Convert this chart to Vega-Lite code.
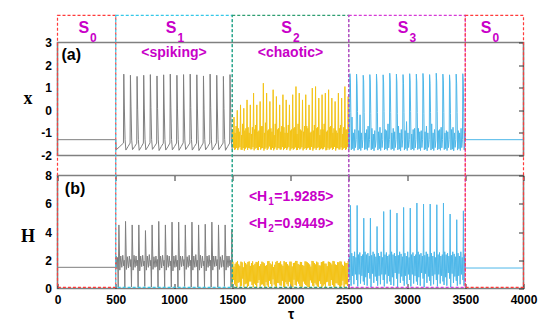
{
"$schema":"https://vega.github.io/schema/vega-lite/v6.json",
"padding":{"left":19.5,"top":13.5,"right":5,"bottom":3},
"bounds":"flush",
"spacing":20,
"config":{"view":{"stroke":"#808080","strokeWidth":1.6},"font":"Liberation Sans"},
"datasets":{
"xg":[{"t":0,"v":-1.3},{"t":500,"v":-1.3},{"t":504,"v":-1.75},{"t":535,"v":-1.6},
{"t":566,"v":-1.45},{"t":569,"v":1.6},{"t":574,"v":0.1},{"t":580,"v":-1.3},{"t":587,"v":-1.76},{"t":606,"v":-1.6},
{"t":623,"v":-1.45},{"t":626,"v":1.55},{"t":631,"v":0.15},{"t":637,"v":-1.32},{"t":644,"v":-1.74},{"t":663,"v":-1.6},
{"t":680,"v":-1.46},{"t":683,"v":1.5},{"t":688,"v":0.05},{"t":694,"v":-1.3},{"t":701,"v":-1.77},{"t":720,"v":-1.61},
{"t":737,"v":-1.45},{"t":740,"v":1.55},{"t":745,"v":0.1},{"t":751,"v":-1.28},{"t":758,"v":-1.75},{"t":777,"v":-1.6},
{"t":794,"v":-1.44},{"t":797,"v":1.58},{"t":802,"v":0.12},{"t":808,"v":-1.3},{"t":815,"v":-1.73},{"t":834,"v":-1.59},
{"t":851,"v":-1.45},{"t":854,"v":1.52},{"t":859,"v":0.08},{"t":865,"v":-1.31},{"t":872,"v":-1.78},{"t":891,"v":-1.6},
{"t":908,"v":-1.46},{"t":911,"v":1.57},{"t":916,"v":0.1},{"t":922,"v":-1.3},{"t":929,"v":-1.76},{"t":948,"v":-1.61},
{"t":965,"v":-1.45},{"t":968,"v":1.6},{"t":973,"v":0.14},{"t":979,"v":-1.29},{"t":986,"v":-1.75},{"t":1005,"v":-1.6},
{"t":1022,"v":-1.45},{"t":1025,"v":1.55},{"t":1030,"v":0.06},{"t":1036,"v":-1.3},{"t":1043,"v":-1.77},{"t":1062,"v":-1.6},
{"t":1079,"v":-1.44},{"t":1082,"v":1.58},{"t":1087,"v":0.1},{"t":1093,"v":-1.32},{"t":1100,"v":-1.74},{"t":1119,"v":-1.59},
{"t":1136,"v":-1.45},{"t":1139,"v":1.6},{"t":1144,"v":0.12},{"t":1150,"v":-1.3},{"t":1157,"v":-1.76},{"t":1176,"v":-1.6},
{"t":1193,"v":-1.46},{"t":1196,"v":1.57},{"t":1201,"v":0.1},{"t":1207,"v":-1.28},{"t":1214,"v":-1.78},{"t":1233,"v":-1.61},
{"t":1250,"v":-1.45},{"t":1253,"v":1.52},{"t":1258,"v":0.05},{"t":1264,"v":-1.3},{"t":1271,"v":-1.75},{"t":1290,"v":-1.6},
{"t":1307,"v":-1.45},{"t":1310,"v":1.6},{"t":1315,"v":0.14},{"t":1321,"v":-1.31},{"t":1328,"v":-1.76},{"t":1347,"v":-1.6},
{"t":1364,"v":-1.44},{"t":1367,"v":1.55},{"t":1372,"v":0.1},{"t":1378,"v":-1.3},{"t":1385,"v":-1.74},{"t":1404,"v":-1.59},
{"t":1421,"v":-1.45},{"t":1424,"v":1.5},{"t":1429,"v":0.08},{"t":1435,"v":-1.29},{"t":1442,"v":-1.77},{"t":1461,"v":-1.6},
{"t":1478,"v":-1.45},{"t":1481,"v":1.58},{"t":1486,"v":0.1},{"t":1492,"v":-1.3},{"t":1500,"v":-1.75}],
"xy":[{"t":1500,"v":-1.3},{"t":1505,"v":-0.85},{"t":1510,"v":-1.65},{"t":1515,"v":-0.3},{"t":1520,"v":-1.75},{"t":1524,"v":-1.0},
{"t":1528,"v":-1.72},{"t":1533,"v":-0.7},{"t":1538,"v":-1.66},{"t":1543,"v":0.0},{"t":1548,"v":-1.76},{"t":1552,"v":-0.8},
{"t":1556,"v":-1.68},{"t":1561,"v":-0.95},{"t":1566,"v":-1.62},{"t":1571,"v":0.24},{"t":1576,"v":-1.74},{"t":1580,"v":-1.1},
{"t":1584,"v":-1.75},{"t":1589,"v":-0.6},{"t":1594,"v":-1.67},{"t":1599,"v":0.09},{"t":1604,"v":-1.78},{"t":1608,"v":-0.9},
{"t":1612,"v":-1.7},{"t":1617,"v":-0.8},{"t":1622,"v":-1.64},{"t":1627,"v":0.46},{"t":1632,"v":-1.75},{"t":1636,"v":-0.75},
{"t":1640,"v":-1.66},{"t":1645,"v":-1.0},{"t":1650,"v":-1.68},{"t":1655,"v":0.24},{"t":1660,"v":-1.73},{"t":1664,"v":-1.05},
{"t":1668,"v":-1.72},{"t":1673,"v":-0.75},{"t":1678,"v":-1.63},{"t":1683,"v":0.76},{"t":1688,"v":-1.77},{"t":1692,"v":-0.85},
{"t":1696,"v":-1.7},{"t":1701,"v":-0.65},{"t":1706,"v":-1.66},{"t":1711,"v":0.24},{"t":1716,"v":-1.75},{"t":1720,"v":-0.95},
{"t":1724,"v":-1.76},{"t":1729,"v":-0.9},{"t":1734,"v":-1.62},{"t":1739,"v":0.39},{"t":1744,"v":-1.74},{"t":1748,"v":-0.7},
{"t":1752,"v":-1.68},{"t":1757,"v":-0.7},{"t":1762,"v":-1.67},{"t":1767,"v":1.2},{"t":1772,"v":-1.78},{"t":1776,"v":-1.0},
{"t":1780,"v":-1.71},{"t":1785,"v":-0.55},{"t":1790,"v":-1.65},{"t":1795,"v":0.76},{"t":1800,"v":-1.75},{"t":1804,"v":-0.9},
{"t":1808,"v":-1.69},{"t":1813,"v":-0.85},{"t":1818,"v":-1.6},{"t":1823,"v":0.39},{"t":1828,"v":-1.73},{"t":1832,"v":-0.8},
{"t":1836,"v":-1.74},{"t":1841,"v":-0.95},{"t":1846,"v":-1.66},{"t":1851,"v":0.91},{"t":1856,"v":-1.77},{"t":1860,"v":-1.1},
{"t":1864,"v":-1.7},{"t":1869,"v":-0.6},{"t":1874,"v":-1.64},{"t":1879,"v":0.61},{"t":1884,"v":-1.75},{"t":1888,"v":-0.85},
{"t":1892,"v":-1.67},{"t":1897,"v":-0.8},{"t":1902,"v":-1.68},{"t":1907,"v":0.24},{"t":1912,"v":-1.74},{"t":1916,"v":-0.95},
{"t":1920,"v":-1.73},{"t":1925,"v":-0.7},{"t":1930,"v":-1.63},{"t":1935,"v":0.69},{"t":1940,"v":-1.76},{"t":1944,"v":-0.75},
{"t":1948,"v":-1.7},{"t":1953,"v":-1.0},{"t":1958,"v":-1.66},{"t":1963,"v":0.46},{"t":1968,"v":-1.75},{"t":1972,"v":-1.0},
{"t":1976,"v":-1.68},{"t":1981,"v":-0.65},{"t":1986,"v":-1.62},{"t":1991,"v":0.24},{"t":1996,"v":-1.78},{"t":2000,"v":-0.9},
{"t":2004,"v":-1.72},{"t":2009,"v":-0.85},{"t":2014,"v":-1.67},{"t":2019,"v":0.69},{"t":2024,"v":-1.74},{"t":2028,"v":-0.8},
{"t":2032,"v":-1.7},{"t":2037,"v":-0.75},{"t":2042,"v":-1.64},{"t":2047,"v":1.05},{"t":2052,"v":-1.76},{"t":2056,"v":-1.05},
{"t":2060,"v":-1.75},{"t":2065,"v":-0.6},{"t":2070,"v":-1.66},{"t":2075,"v":0.76},{"t":2080,"v":-1.73},{"t":2084,"v":-0.85},
{"t":2088,"v":-1.69},{"t":2093,"v":-0.9},{"t":2098,"v":-1.63},{"t":2103,"v":0.46},{"t":2108,"v":-1.77},{"t":2112,"v":-0.95},
{"t":2116,"v":-1.71},{"t":2121,"v":-0.7},{"t":2126,"v":-1.67},{"t":2131,"v":0.69},{"t":2136,"v":-1.75},{"t":2140,"v":-0.7},
{"t":2144,"v":-1.68},{"t":2149,"v":-0.8},{"t":2154,"v":-1.65},{"t":2159,"v":0.24},{"t":2164,"v":-1.74},{"t":2168,"v":-1.0},
{"t":2172,"v":-1.74},{"t":2177,"v":-0.95},{"t":2182,"v":-1.62},{"t":2187,"v":0.98},{"t":2192,"v":-1.78},{"t":2196,"v":-0.9},
{"t":2200,"v":-1.7},{"t":2205,"v":-0.65},{"t":2210,"v":-1.66},{"t":2215,"v":1.05},{"t":2220,"v":-1.75},{"t":2224,"v":-0.8},
{"t":2228,"v":-1.67},{"t":2233,"v":-0.75},{"t":2238,"v":-1.64},{"t":2243,"v":0.54},{"t":2248,"v":-1.76},{"t":2252,"v":-1.1},
{"t":2256,"v":-1.72},{"t":2261,"v":-0.85},{"t":2266,"v":-1.68},{"t":2271,"v":0.69},{"t":2276,"v":-1.73},{"t":2280,"v":-0.85},
{"t":2284,"v":-1.7},{"t":2289,"v":-0.6},{"t":2294,"v":-1.63},{"t":2299,"v":0.76},{"t":2304,"v":-1.77},{"t":2308,"v":-0.95},
{"t":2312,"v":-1.75},{"t":2317,"v":-0.9},{"t":2322,"v":-1.66},{"t":2327,"v":0.91},{"t":2332,"v":-1.74},{"t":2336,"v":-0.75},
{"t":2340,"v":-1.69},{"t":2345,"v":-0.7},{"t":2350,"v":-1.65},{"t":2355,"v":0.54},{"t":2360,"v":-1.75},{"t":2364,"v":-1.0},
{"t":2368,"v":-1.71},{"t":2373,"v":-0.8},{"t":2378,"v":-1.62},{"t":2383,"v":0.39},{"t":2388,"v":-1.78},{"t":2392,"v":-0.9},
{"t":2396,"v":-1.68},{"t":2401,"v":-1.0},{"t":2406,"v":-1.67},{"t":2411,"v":0.76},{"t":2416,"v":-1.73},{"t":2420,"v":-0.8},
{"t":2424,"v":-1.73},{"t":2429,"v":-0.65},{"t":2434,"v":-1.64},{"t":2439,"v":0.54},{"t":2444,"v":-1.76},{"t":2448,"v":-1.05},
{"t":2452,"v":-1.7},{"t":2457,"v":-0.75},{"t":2462,"v":-1.66},{"t":2467,"v":1.05},{"t":2472,"v":-1.75},{"t":2476,"v":-0.85},
{"t":2480,"v":-1.72},{"t":2485,"v":-0.85},{"t":2490,"v":-1.63},{"t":2495,"v":0.61},{"t":2500,"v":-1.75}],
"xb":[{"t":2500,"v":-1.0},{"t":2503,"v":-1.7},
{"t":2507,"v":-1.3},{"t":2510,"v":1.62},{"t":2514,"v":1.25},{"t":2518,"v":-0.1},{"t":2522,"v":-1.75},{"t":2528,"v":-0.3},{"t":2534,"v":-1.7},{"t":2540,"v":-1.0},{"t":2546,"v":-1.78},{"t":2552,"v":-0.85},{"t":2558,"v":-1.65},
{"t":2564,"v":-1.3},{"t":2567,"v":1.6},{"t":2571,"v":1.2},{"t":2575,"v":-0.05},{"t":2579,"v":-1.76},{"t":2585,"v":-0.9},{"t":2591,"v":-1.7},{"t":2597,"v":-0.2},{"t":2603,"v":-1.78},{"t":2609,"v":-1.0},{"t":2615,"v":-1.66},
{"t":2621,"v":-1.28},{"t":2624,"v":1.55},{"t":2628,"v":1.3},{"t":2632,"v":-0.1},{"t":2636,"v":-1.74},{"t":2642,"v":-1.0},{"t":2648,"v":-1.72},{"t":2654,"v":-0.85},{"t":2660,"v":-1.77},{"t":2666,"v":-0.7},{"t":2672,"v":-1.65},
{"t":2678,"v":-1.3},{"t":2681,"v":1.58},{"t":2685,"v":1.25},{"t":2689,"v":-0.15},{"t":2693,"v":-1.75},{"t":2699,"v":-0.8},{"t":2705,"v":-1.7},{"t":2711,"v":-1.05},{"t":2717,"v":-1.79},{"t":2723,"v":-0.9},{"t":2729,"v":-1.64},
{"t":2735,"v":-1.32},{"t":2738,"v":1.6},{"t":2742,"v":1.2},{"t":2746,"v":-0.1},{"t":2750,"v":-1.76},{"t":2756,"v":-0.95},{"t":2762,"v":-1.7},{"t":2768,"v":-0.75},{"t":2774,"v":-1.78},{"t":2780,"v":-1.0},{"t":2786,"v":-1.65},
{"t":2792,"v":-1.3},{"t":2795,"v":1.57},{"t":2799,"v":1.25},{"t":2803,"v":-0.05},{"t":2807,"v":-1.75},{"t":2813,"v":-0.85},{"t":2819,"v":-1.71},{"t":2825,"v":-0.9},{"t":2831,"v":-1.77},{"t":2837,"v":-0.6},{"t":2843,"v":-1.66},
{"t":2849,"v":-1.29},{"t":2852,"v":1.64},{"t":2856,"v":1.3},{"t":2860,"v":-0.1},{"t":2864,"v":-1.74},{"t":2870,"v":-1.0},{"t":2876,"v":-1.7},{"t":2882,"v":-0.8},{"t":2888,"v":-1.78},{"t":2894,"v":-0.95},{"t":2900,"v":-1.65},
{"t":2906,"v":-1.3},{"t":2909,"v":1.6},{"t":2913,"v":1.25},{"t":2917,"v":-0.15},{"t":2921,"v":-1.75},{"t":2927,"v":-0.7},{"t":2933,"v":-1.72},{"t":2939,"v":-1.0},{"t":2945,"v":-1.79},{"t":2951,"v":-0.85},{"t":2957,"v":-1.64},
{"t":2963,"v":-1.31},{"t":2966,"v":1.58},{"t":2970,"v":1.2},{"t":2974,"v":-0.1},{"t":2978,"v":-1.76},{"t":2984,"v":-0.9},{"t":2990,"v":-1.7},{"t":2996,"v":-0.5},{"t":3002,"v":-1.78},{"t":3008,"v":-1.0},{"t":3014,"v":-1.65},
{"t":3020,"v":-1.3},{"t":3023,"v":1.62},{"t":3027,"v":1.3},{"t":3031,"v":-0.05},{"t":3035,"v":-1.75},{"t":3041,"v":-1.05},{"t":3047,"v":-1.71},{"t":3053,"v":-0.85},{"t":3059,"v":-1.77},{"t":3065,"v":-0.8},{"t":3071,"v":-1.66},
{"t":3077,"v":-1.3},{"t":3080,"v":1.6},{"t":3084,"v":1.25},{"t":3088,"v":-0.1},{"t":3092,"v":-1.74},{"t":3098,"v":-0.8},{"t":3104,"v":-1.7},{"t":3110,"v":-0.95},{"t":3116,"v":-1.78},{"t":3122,"v":-0.9},{"t":3128,"v":-1.65},
{"t":3134,"v":-1.28},{"t":3137,"v":1.63},{"t":3141,"v":1.3},{"t":3145,"v":-0.15},{"t":3149,"v":-1.75},{"t":3155,"v":-0.95},{"t":3161,"v":-1.72},{"t":3167,"v":-0.7},{"t":3173,"v":-1.79},{"t":3179,"v":-1.0},{"t":3185,"v":-1.64},
{"t":3191,"v":-1.3},{"t":3194,"v":1.58},{"t":3198,"v":1.2},{"t":3202,"v":-0.1},{"t":3206,"v":-1.76},{"t":3212,"v":-0.6},{"t":3218,"v":-1.7},{"t":3224,"v":-1.0},{"t":3230,"v":-1.78},{"t":3236,"v":-0.85},{"t":3242,"v":-1.65},
{"t":3248,"v":-1.32},{"t":3251,"v":1.64},{"t":3255,"v":1.25},{"t":3259,"v":-0.05},{"t":3263,"v":-1.75},{"t":3269,"v":-0.9},{"t":3275,"v":-1.71},{"t":3281,"v":-0.85},{"t":3287,"v":-1.77},{"t":3293,"v":-0.75},{"t":3299,"v":-1.66},
{"t":3305,"v":-1.3},{"t":3308,"v":1.6},{"t":3312,"v":1.3},{"t":3316,"v":-0.1},{"t":3320,"v":-1.74},{"t":3326,"v":-1.0},{"t":3332,"v":-1.7},{"t":3338,"v":-0.9},{"t":3344,"v":-1.78},{"t":3350,"v":-0.95},{"t":3356,"v":-1.65},
{"t":3362,"v":-1.29},{"t":3365,"v":1.57},{"t":3369,"v":1.25},{"t":3373,"v":-0.15},{"t":3377,"v":-1.75},{"t":3383,"v":-0.85},{"t":3389,"v":-1.72},{"t":3395,"v":-0.75},{"t":3401,"v":-1.79},{"t":3407,"v":-1.0},{"t":3413,"v":-1.64},
{"t":3419,"v":-1.3},{"t":3422,"v":1.6},{"t":3426,"v":1.2},{"t":3430,"v":-0.1},{"t":3434,"v":-1.76},{"t":3440,"v":-0.9},{"t":3446,"v":-1.7},{"t":3452,"v":-1.0},{"t":3458,"v":-1.78},{"t":3464,"v":-0.8},{"t":3470,"v":-1.65},
{"t":3476,"v":-1.3},{"t":3479,"v":1.62},{"t":3483,"v":1.25},{"t":3487,"v":-0.1},{"t":3491,"v":-1.75},{"t":3496,"v":-0.9},{"t":3500,"v":-1.3},{"t":4000,"v":-1.3}],
"hg":[{"t":0,"v":1.5},{"t":500,"v":1.5},{"t":503,"v":2.3},{"t":510,"v":1.4},{"t":516,"v":2.2},{"t":521,"v":0.1},
{"t":527,"v":4.5},{"t":535,"v":1.3},{"t":543,"v":2.3},{"t":552,"v":1.5},{"t":560,"v":2.35},{"t":568,"v":1.6},{"t":573,"v":2.0},{"t":578,"v":0.1},
{"t":584,"v":4.75},{"t":592,"v":1.35},{"t":600,"v":2.25},{"t":609,"v":1.45},{"t":617,"v":2.3},{"t":625,"v":1.55},{"t":630,"v":2.05},{"t":635,"v":0.12},
{"t":641,"v":4.5},{"t":649,"v":1.3},{"t":657,"v":2.35},{"t":666,"v":1.5},{"t":674,"v":2.3},{"t":682,"v":1.6},{"t":687,"v":2.0},{"t":692,"v":0.1},
{"t":698,"v":4.5},{"t":706,"v":1.25},{"t":714,"v":2.3},{"t":723,"v":1.55},{"t":731,"v":2.35},{"t":739,"v":1.6},{"t":744,"v":1.95},{"t":749,"v":0.15},
{"t":755,"v":4.1},{"t":763,"v":1.3},{"t":771,"v":2.3},{"t":780,"v":1.5},{"t":788,"v":2.4},{"t":796,"v":1.6},{"t":801,"v":2.0},{"t":806,"v":0.1},
{"t":812,"v":4.5},{"t":820,"v":1.35},{"t":828,"v":2.25},{"t":837,"v":1.5},{"t":845,"v":2.3},{"t":853,"v":1.55},{"t":858,"v":2.05},{"t":863,"v":0.1},
{"t":869,"v":4.75},{"t":877,"v":1.3},{"t":885,"v":2.3},{"t":894,"v":1.45},{"t":902,"v":2.35},{"t":910,"v":1.6},{"t":915,"v":2.0},{"t":920,"v":0.12},
{"t":926,"v":4.5},{"t":934,"v":1.3},{"t":942,"v":2.35},{"t":951,"v":1.5},{"t":959,"v":2.3},{"t":967,"v":1.6},{"t":972,"v":1.95},{"t":977,"v":0.1},
{"t":983,"v":4.7},{"t":991,"v":1.25},{"t":999,"v":2.3},{"t":1008,"v":1.5},{"t":1016,"v":2.35},{"t":1024,"v":1.55},{"t":1029,"v":2.0},{"t":1034,"v":0.1},
{"t":1040,"v":4.7},{"t":1048,"v":1.3},{"t":1056,"v":2.3},{"t":1065,"v":1.55},{"t":1073,"v":2.3},{"t":1081,"v":1.6},{"t":1086,"v":2.05},{"t":1091,"v":0.15},
{"t":1097,"v":4.5},{"t":1105,"v":1.35},{"t":1113,"v":2.25},{"t":1122,"v":1.5},{"t":1130,"v":2.35},{"t":1138,"v":1.6},{"t":1143,"v":2.0},{"t":1148,"v":0.1},
{"t":1154,"v":4.7},{"t":1162,"v":1.3},{"t":1170,"v":2.3},{"t":1179,"v":1.5},{"t":1187,"v":2.4},{"t":1195,"v":1.55},{"t":1200,"v":2.0},{"t":1205,"v":0.1},
{"t":1211,"v":4.5},{"t":1219,"v":1.3},{"t":1227,"v":2.35},{"t":1236,"v":1.45},{"t":1244,"v":2.3},{"t":1252,"v":1.6},{"t":1257,"v":1.95},{"t":1262,"v":0.12},
{"t":1268,"v":4.55},{"t":1276,"v":1.25},{"t":1284,"v":2.3},{"t":1293,"v":1.5},{"t":1301,"v":2.35},{"t":1309,"v":1.6},{"t":1314,"v":2.0},{"t":1319,"v":0.1},
{"t":1325,"v":4.7},{"t":1333,"v":1.3},{"t":1341,"v":2.3},{"t":1350,"v":1.55},{"t":1358,"v":2.3},{"t":1366,"v":1.6},{"t":1371,"v":2.05},{"t":1376,"v":0.1},
{"t":1382,"v":4.5},{"t":1390,"v":1.35},{"t":1398,"v":2.25},{"t":1407,"v":1.5},{"t":1415,"v":2.35},{"t":1423,"v":1.55},{"t":1428,"v":2.0},{"t":1433,"v":0.15},
{"t":1439,"v":4.5},{"t":1447,"v":1.3},{"t":1455,"v":2.3},{"t":1464,"v":1.5},{"t":1472,"v":2.3},{"t":1480,"v":1.6},{"t":1485,"v":2.0},{"t":1490,"v":0.1},
{"t":1496,"v":4.2},{"t":1500,"v":2.0}],
"hy":[{"t":1500,"v":0.15},{"t":1505,"v":1.9},{"t":1510,"v":0.6},{"t":1515,"v":1.55},
{"t":1520,"v":0.3},{"t":1525,"v":1.75},{"t":1530,"v":0.2},{"t":1535,"v":1.85},
{"t":1540,"v":0.1},{"t":1545,"v":1.95},{"t":1550,"v":0.4},{"t":1555,"v":1.7},
{"t":1560,"v":0.45},{"t":1565,"v":1.6},{"t":1570,"v":0.15},{"t":1575,"v":1.9},
{"t":1580,"v":0.2},{"t":1585,"v":1.85},{"t":1590,"v":0.7},{"t":1595,"v":1.5},
{"t":1600,"v":0.12},{"t":1605,"v":1.9},{"t":1610,"v":0.3},{"t":1615,"v":1.8},
{"t":1620,"v":0.35},{"t":1625,"v":1.7},{"t":1630,"v":0.1},{"t":1635,"v":1.88},
{"t":1640,"v":0.18},{"t":1645,"v":1.92},{"t":1650,"v":0.5},{"t":1655,"v":1.6},
{"t":1660,"v":0.5},{"t":1665,"v":1.8},{"t":1670,"v":0.25},{"t":1675,"v":1.92},
{"t":1680,"v":0.1},{"t":1685,"v":1.65},{"t":1690,"v":0.35},{"t":1695,"v":1.75},
{"t":1700,"v":0.25},{"t":1705,"v":1.88},{"t":1710,"v":0.12},{"t":1715,"v":1.85},
{"t":1720,"v":0.4},{"t":1725,"v":1.95},{"t":1730,"v":0.6},{"t":1735,"v":1.58},
{"t":1740,"v":0.14},{"t":1745,"v":1.72},{"t":1750,"v":0.28},{"t":1755,"v":1.9},
{"t":1760,"v":0.3},{"t":1765,"v":1.85},{"t":1770,"v":0.2},{"t":1775,"v":1.78},
{"t":1780,"v":0.1},{"t":1785,"v":1.6},{"t":1790,"v":0.45},{"t":1795,"v":1.65},
{"t":1800,"v":0.22},{"t":1805,"v":1.93},{"t":1810,"v":0.1},{"t":1815,"v":1.94},
{"t":1820,"v":0.55},{"t":1825,"v":1.78},{"t":1830,"v":0.32},{"t":1835,"v":1.7},
{"t":1840,"v":0.15},{"t":1845,"v":1.9},{"t":1850,"v":0.65},{"t":1855,"v":1.52},
{"t":1860,"v":0.28},{"t":1865,"v":1.68},{"t":1870,"v":0.15},{"t":1875,"v":1.88},
{"t":1880,"v":0.1},{"t":1885,"v":1.95},{"t":1890,"v":0.4},{"t":1895,"v":1.8},
{"t":1900,"v":0.38},{"t":1905,"v":1.82},{"t":1910,"v":0.22},{"t":1915,"v":1.92},
{"t":1920,"v":0.2},{"t":1925,"v":1.7},{"t":1930,"v":0.55},{"t":1935,"v":1.6},
{"t":1940,"v":0.12},{"t":1945,"v":1.94},{"t":1950,"v":0.1},{"t":1955,"v":1.85},
{"t":1960,"v":0.45},{"t":1965,"v":1.86},{"t":1970,"v":0.3},{"t":1975,"v":1.72},
{"t":1980,"v":0.16},{"t":1985,"v":1.62},{"t":1990,"v":0.48},{"t":1995,"v":1.9},
{"t":2000,"v":0.3},{"t":2005,"v":1.9},{"t":2010,"v":0.18},{"t":2015,"v":1.56},
{"t":2020,"v":0.1},{"t":2025,"v":1.8},{"t":2030,"v":0.62},{"t":2035,"v":1.82},
{"t":2040,"v":0.25},{"t":2045,"v":1.95},{"t":2050,"v":0.2},{"t":2055,"v":1.95},
{"t":2060,"v":0.5},{"t":2065,"v":1.74},{"t":2070,"v":0.35},{"t":2075,"v":1.68},
{"t":2080,"v":0.18},{"t":2085,"v":1.88},{"t":2090,"v":0.12},{"t":2095,"v":1.87},
{"t":2100,"v":0.12},{"t":2105,"v":1.66},{"t":2110,"v":0.5},{"t":2115,"v":1.6},
{"t":2120,"v":0.35},{"t":2125,"v":1.92},{"t":2130,"v":0.25},{"t":2135,"v":1.9},
{"t":2140,"v":0.2},{"t":2145,"v":1.85},{"t":2150,"v":0.1},{"t":2155,"v":1.78},
{"t":2160,"v":0.1},{"t":2165,"v":1.7},{"t":2170,"v":0.58},{"t":2175,"v":1.55},
{"t":2180,"v":0.42},{"t":2185,"v":1.95},{"t":2190,"v":0.2},{"t":2195,"v":1.93},
{"t":2200,"v":0.15},{"t":2205,"v":1.8},{"t":2210,"v":0.4},{"t":2215,"v":1.7},
{"t":2220,"v":0.28},{"t":2225,"v":1.9},{"t":2230,"v":0.15},{"t":2235,"v":1.84},
{"t":2240,"v":0.12},{"t":2245,"v":1.64},{"t":2250,"v":0.52},{"t":2255,"v":1.62},
{"t":2260,"v":0.33},{"t":2265,"v":1.87},{"t":2270,"v":0.1},{"t":2275,"v":1.9},
{"t":2280,"v":0.2},{"t":2285,"v":1.93},{"t":2290,"v":0.3},{"t":2295,"v":1.76},
{"t":2300,"v":0.1},{"t":2305,"v":1.76},{"t":2310,"v":0.45},{"t":2315,"v":1.58},
{"t":2320,"v":0.48},{"t":2325,"v":1.9},{"t":2330,"v":0.2},{"t":2335,"v":1.88},
{"t":2340,"v":0.18},{"t":2345,"v":1.82},{"t":2350,"v":0.6},{"t":2355,"v":1.7},
{"t":2360,"v":0.25},{"t":2365,"v":1.95},{"t":2370,"v":0.14},{"t":2375,"v":1.92},
{"t":2380,"v":0.12},{"t":2385,"v":1.7},{"t":2390,"v":0.38},{"t":2395,"v":1.65},
{"t":2400,"v":0.36},{"t":2405,"v":1.86},{"t":2410,"v":0.25},{"t":2415,"v":1.85},
{"t":2420,"v":0.15},{"t":2425,"v":1.92},{"t":2430,"v":0.1},{"t":2435,"v":1.9},
{"t":2440,"v":0.22},{"t":2445,"v":1.68},{"t":2450,"v":0.55},{"t":2455,"v":1.6},
{"t":2460,"v":0.1},{"t":2465,"v":1.9},{"t":2470,"v":0.3},{"t":2475,"v":1.8},
{"t":2480,"v":0.3},{"t":2485,"v":1.8},{"t":2490,"v":0.18},{"t":2495,"v":1.94},{"t":2500,"v":1.2}],
"hb":[{"t":2500,"v":1.0},{"t":2505,"v":2.3},{"t":2510,"v":0.6},
{"t":2515,"v":5.88},{"t":2520,"v":0.2},{"t":2526,"v":2.5},{"t":2532,"v":0.9},{"t":2538,"v":2.3},{"t":2544,"v":0.3},{"t":2550,"v":2.6},{"t":2556,"v":1.0},{"t":2562,"v":2.2},{"t":2568,"v":0.6},
{"t":2572,"v":5.88},{"t":2577,"v":0.15},{"t":2583,"v":2.4},{"t":2589,"v":1.0},{"t":2595,"v":2.55},{"t":2601,"v":0.35},{"t":2607,"v":2.3},{"t":2613,"v":0.9},{"t":2619,"v":2.4},{"t":2625,"v":0.5},
{"t":2629,"v":4.98},{"t":2634,"v":0.25},{"t":2640,"v":2.6},{"t":2646,"v":0.8},{"t":2652,"v":2.4},{"t":2658,"v":0.2},{"t":2664,"v":2.5},{"t":2670,"v":1.1},{"t":2676,"v":2.3},{"t":2682,"v":0.7},
{"t":2686,"v":4.98},{"t":2691,"v":0.1},{"t":2697,"v":2.35},{"t":2703,"v":1.05},{"t":2709,"v":2.6},{"t":2715,"v":0.4},{"t":2721,"v":2.45},{"t":2727,"v":0.85},{"t":2733,"v":2.25},{"t":2739,"v":0.55},
{"t":2743,"v":4.39},{"t":2748,"v":0.2},{"t":2754,"v":2.5},{"t":2760,"v":0.9},{"t":2766,"v":2.3},{"t":2772,"v":0.3},{"t":2778,"v":2.6},{"t":2784,"v":1.0},{"t":2790,"v":2.2},{"t":2796,"v":0.6},
{"t":2800,"v":5.45},{"t":2805,"v":0.15},{"t":2811,"v":2.4},{"t":2817,"v":1.0},{"t":2823,"v":2.55},{"t":2829,"v":0.35},{"t":2835,"v":2.3},{"t":2841,"v":0.9},{"t":2847,"v":2.4},{"t":2853,"v":0.5},
{"t":2857,"v":5.57},{"t":2862,"v":0.25},{"t":2868,"v":2.6},{"t":2874,"v":0.8},{"t":2880,"v":2.4},{"t":2886,"v":0.2},{"t":2892,"v":2.5},{"t":2898,"v":1.1},{"t":2904,"v":2.3},{"t":2910,"v":0.7},
{"t":2914,"v":5.34},{"t":2919,"v":0.1},{"t":2925,"v":2.35},{"t":2931,"v":1.05},{"t":2937,"v":2.6},{"t":2943,"v":0.4},{"t":2949,"v":2.45},{"t":2955,"v":0.85},{"t":2961,"v":2.25},{"t":2967,"v":0.55},
{"t":2971,"v":5.74},{"t":2976,"v":0.2},{"t":2982,"v":2.5},{"t":2988,"v":0.9},{"t":2994,"v":2.3},{"t":3000,"v":0.3},{"t":3006,"v":2.6},{"t":3012,"v":1.0},{"t":3018,"v":2.2},{"t":3024,"v":0.6},
{"t":3028,"v":5.69},{"t":3033,"v":0.15},{"t":3039,"v":2.4},{"t":3045,"v":1.0},{"t":3051,"v":2.55},{"t":3057,"v":0.35},{"t":3063,"v":2.3},{"t":3069,"v":0.9},{"t":3075,"v":2.4},{"t":3081,"v":0.5},
{"t":3085,"v":6.05},{"t":3090,"v":0.25},{"t":3096,"v":2.6},{"t":3102,"v":0.8},{"t":3108,"v":2.4},{"t":3114,"v":0.2},{"t":3120,"v":2.5},{"t":3126,"v":1.1},{"t":3132,"v":2.3},{"t":3138,"v":0.7},
{"t":3142,"v":5.98},{"t":3147,"v":0.1},{"t":3153,"v":2.35},{"t":3159,"v":1.05},{"t":3165,"v":2.6},{"t":3171,"v":0.4},{"t":3177,"v":2.45},{"t":3183,"v":0.85},{"t":3189,"v":2.25},{"t":3195,"v":0.55},
{"t":3199,"v":5.98},{"t":3204,"v":0.2},{"t":3210,"v":2.5},{"t":3216,"v":0.9},{"t":3222,"v":2.3},{"t":3228,"v":0.3},{"t":3234,"v":2.6},{"t":3240,"v":1.0},{"t":3246,"v":2.2},{"t":3252,"v":0.6},
{"t":3256,"v":5.93},{"t":3261,"v":0.15},{"t":3267,"v":2.4},{"t":3273,"v":1.0},{"t":3279,"v":2.55},{"t":3285,"v":0.35},{"t":3291,"v":2.3},{"t":3297,"v":0.9},{"t":3303,"v":2.4},{"t":3309,"v":0.5},
{"t":3313,"v":6.05},{"t":3318,"v":0.25},{"t":3324,"v":2.6},{"t":3330,"v":0.8},{"t":3336,"v":2.4},{"t":3342,"v":0.2},{"t":3348,"v":2.5},{"t":3354,"v":1.1},{"t":3360,"v":2.3},{"t":3366,"v":0.7},
{"t":3370,"v":5.27},{"t":3375,"v":0.1},{"t":3381,"v":2.35},{"t":3387,"v":1.05},{"t":3393,"v":2.6},{"t":3399,"v":0.4},{"t":3405,"v":2.45},{"t":3411,"v":0.85},{"t":3417,"v":2.25},{"t":3423,"v":0.55},
{"t":3427,"v":4.87},{"t":3432,"v":0.2},{"t":3438,"v":2.5},{"t":3444,"v":0.9},{"t":3450,"v":2.3},{"t":3456,"v":0.3},{"t":3462,"v":2.6},{"t":3468,"v":1.0},{"t":3474,"v":2.2},{"t":3480,"v":0.6},
{"t":3484,"v":5.5},{"t":3489,"v":0.2},{"t":3495,"v":2.4},{"t":3500,"v":1.45},{"t":4000,"v":1.45}]
},
"vconcat":[
{"width":466,"height":113,
"resolve":{"axis":{"x":"independent","y":"independent"}},
"layer":[
{"data":{"name":"xg"},"mark":{"type":"line","color":"#7f7f7f","strokeWidth":1},
"encoding":{"x":{"field":"t","type":"quantitative","scale":{"domain":[0,4000],"nice":false},"axis":null},
"y":{"field":"v","type":"quantitative","scale":{"domain":[-2,3],"nice":false,"zero":false},"axis":{"orient":"left","values":[-2,-1,0,1,2,3],"ticks":false,"domain":false,"grid":false,"labelPadding":6,"labelFont":"Liberation Sans","labelFontWeight":"bold","labelFontSize":12,"labelColor":"#000000","labelExpr":"'' + datum.value","title":"x","titleFont":"Liberation Serif","titleFontSize":18,"titleFontWeight":"bold","titleColor":"#000000","titleAngle":0,"titleAlign":"center","titleBaseline":"alphabetic","titleX":-30,"titleY":61}}}},
{"data":{"name":"xy"},"mark":{"type":"line","color":"#f3c316","strokeWidth":1},
"encoding":{"x":{"field":"t","type":"quantitative","scale":{"domain":[0,4000],"nice":false},"axis":null},
"y":{"field":"v","type":"quantitative","scale":{"domain":[-2,3],"nice":false,"zero":false},"axis":{"orient":"right","values":[-2,-1,0,1,2,3],"labels":false,"domain":false,"grid":false,"ticks":true,"tickSize":-5,"tickColor":"#333333","title":null}}}},
{"data":{"name":"xb"},"mark":{"type":"line","color":"#4db7e9","strokeWidth":1},
"encoding":{"x":{"field":"t","type":"quantitative","scale":{"domain":[0,4000],"nice":false},"axis":null},
"y":{"field":"v","type":"quantitative","scale":{"domain":[-2,3],"nice":false,"zero":false},"axis":null}}},
{"data":{"values":[{"t":271,"n":"0"},{"t":1021,"n":"1"},{"t":2012,"n":"2"},{"t":3012,"n":"3"},{"t":3725,"n":"0"}]},
"mark":{"type":"text","align":"right","baseline":"alphabetic","fontSize":16,"fontWeight":"bold","color":"#c800c8","font":"Liberation Sans"},
"encoding":{"x":{"field":"t","type":"quantitative","scale":{"domain":[0,4000],"nice":false},"axis":null},"y":{"datum":3.41,"type":"quantitative","scale":{"domain":[-2,3],"nice":false,"zero":false},"axis":null},"text":{"value":"S"}}},
{"data":{"values":[{"t":271,"n":"0"},{"t":1021,"n":"1"},{"t":2012,"n":"2"},{"t":3012,"n":"3"},{"t":3725,"n":"0"}]},
"mark":{"type":"text","align":"left","baseline":"alphabetic","dx":1,"dy":8.3,"fontSize":12,"fontWeight":"bold","color":"#c800c8","font":"Liberation Sans"},
"encoding":{"x":{"field":"t","type":"quantitative","scale":{"domain":[0,4000],"nice":false},"axis":null},"y":{"datum":3.41,"type":"quantitative","scale":{"domain":[-2,3],"nice":false,"zero":false},"axis":null},"text":{"field":"n"}}},
{"data":{"values":[{"t":1000,"s":"<spiking>"},{"t":2000,"s":"<chaotic>"}]},
"mark":{"type":"text","align":"center","baseline":"alphabetic","fontSize":14,"fontWeight":"bold","color":"#c800c8","font":"Liberation Sans"},
"encoding":{"x":{"field":"t","type":"quantitative","scale":{"domain":[0,4000],"nice":false},"axis":null},"y":{"datum":2.34,"type":"quantitative","scale":{"domain":[-2,3],"nice":false,"zero":false},"axis":null},"text":{"field":"s"}}},
{"data":{"values":[{"t":34,"s":"(a)"}]},
"mark":{"type":"text","align":"left","baseline":"alphabetic","fontSize":16,"fontWeight":"bold","color":"#000000","font":"Liberation Sans"},
"encoding":{"x":{"field":"t","type":"quantitative","scale":{"domain":[0,4000],"nice":false},"axis":null},"y":{"datum":2.23,"type":"quantitative","scale":{"domain":[-2,3],"nice":false,"zero":false},"axis":null},"text":{"field":"s"}}}
]},
{"width":466,"height":113,
"resolve":{"axis":{"x":"independent","y":"independent"}},
"layer":[
{"data":{"name":"hg"},"mark":{"type":"line","color":"#7f7f7f","strokeWidth":1},
"encoding":{"x":{"field":"t","type":"quantitative","scale":{"domain":[0,4000],"nice":false},"axis":{"orient":"bottom","values":[0,500,1000,1500,2000,2500,3000,3500,4000],"format":"d","domain":false,"grid":false,"ticks":true,"tickSize":-5,"tickColor":"#333333","labelPadding":11,"labelFont":"Liberation Sans","labelFontWeight":"bold","labelFontSize":12,"labelColor":"#000000","labelFlush":false,"labelOverlap":false,"labelBound":false,"title":"τ","titleFont":"Liberation Sans","titleFontSize":14,"titleFontWeight":"bold","titleColor":"#000000","titlePadding":1.5}},
"y":{"field":"v","type":"quantitative","scale":{"domain":[0,8],"nice":false,"zero":false},"axis":{"orient":"left","values":[0,2,4,6,8],"ticks":false,"domain":false,"grid":false,"labelPadding":6,"labelFont":"Liberation Sans","labelFontWeight":"bold","labelFontSize":12,"labelColor":"#000000","title":"H","titleFont":"Liberation Serif","titleFontSize":18,"titleFontWeight":"bold","titleColor":"#000000","titleAngle":0,"titleAlign":"center","titleBaseline":"alphabetic","titleX":-30,"titleY":66}}}},
{"data":{"name":"hy"},"mark":{"type":"line","color":"#f3c316","strokeWidth":1},
"encoding":{"x":{"field":"t","type":"quantitative","scale":{"domain":[0,4000],"nice":false},"axis":{"orient":"top","values":[0,500,1000,1500,2000,2500,3000,3500,4000],"labels":false,"domain":false,"grid":false,"ticks":true,"tickSize":-5,"tickColor":"#333333","title":null}},
"y":{"field":"v","type":"quantitative","scale":{"domain":[0,8],"nice":false,"zero":false},"axis":{"orient":"right","values":[0,2,4,6,8],"labels":false,"domain":false,"grid":false,"ticks":true,"tickSize":-5,"tickColor":"#333333","title":null}}}},
{"data":{"name":"hb"},"mark":{"type":"line","color":"#4db7e9","strokeWidth":1},
"encoding":{"x":{"field":"t","type":"quantitative","scale":{"domain":[0,4000],"nice":false},"axis":null},
"y":{"field":"v","type":"quantitative","scale":{"domain":[0,8],"nice":false,"zero":false},"axis":null}}},
{"data":{"values":[{"a":0,"b":500,"k":"S0"},{"a":500,"b":1500,"k":"S1"},{"a":1500,"b":2500,"k":"S2"},{"a":2500,"b":3500,"k":"S3"},{"a":3500,"b":4000,"k":"S0"}]},
"mark":{"type":"rect","filled":false,"strokeDash":[3,2],"strokeWidth":1.2},
"encoding":{"x":{"field":"a","type":"quantitative","scale":{"domain":[0,4000],"nice":false},"axis":null},"x2":{"field":"b"},
"y":{"datum":0.08,"type":"quantitative","scale":{"domain":[0,8],"nice":false,"zero":false},"axis":null},"y2":{"datum":19.33},
"color":{"field":"k","type":"nominal","scale":{"domain":["S0","S1","S2","S3"],"range":["#ff3b3b","#35c8e8","#2f9e72","#d63ad6"]},"legend":null}}},
{"data":{"values":[{"t":63,"v":6.68,"s":"(b)"}]},
"mark":{"type":"text","align":"left","baseline":"alphabetic","fontSize":16,"fontWeight":"bold","color":"#000000","font":"Liberation Sans"},
"encoding":{"x":{"field":"t","type":"quantitative","scale":{"domain":[0,4000],"nice":false},"axis":null},"y":{"field":"v","type":"quantitative","scale":{"domain":[0,8],"nice":false,"zero":false},"axis":null},"text":{"field":"s"}}},
{"data":{"values":[{"t":1800,"v":6.16,"n":"1","r":"=1.9285>"},{"t":1800,"v":4.27,"n":"2","r":"=0.9449>"}]},
"mark":{"type":"text","align":"right","baseline":"alphabetic","fontSize":14,"fontWeight":"bold","color":"#c800c8","font":"Liberation Sans"},
"encoding":{"x":{"field":"t","type":"quantitative","scale":{"domain":[0,4000],"nice":false},"axis":null},"y":{"field":"v","type":"quantitative","scale":{"domain":[0,8],"nice":false,"zero":false},"axis":null},"text":{"value":"<H"}}},
{"data":{"values":[{"t":1800,"v":6.16,"n":"1","r":"=1.9285>"},{"t":1800,"v":4.27,"n":"2","r":"=0.9449>"}]},
"mark":{"type":"text","align":"left","baseline":"alphabetic","dx":1,"dy":4,"fontSize":10,"fontWeight":"bold","color":"#c800c8","font":"Liberation Sans"},
"encoding":{"x":{"field":"t","type":"quantitative","scale":{"domain":[0,4000],"nice":false},"axis":null},"y":{"field":"v","type":"quantitative","scale":{"domain":[0,8],"nice":false,"zero":false},"axis":null},"text":{"field":"n"}}},
{"data":{"values":[{"t":1800,"v":6.16,"n":"1","r":"=1.9285>"},{"t":1800,"v":4.27,"n":"2","r":"=0.9449>"}]},
"mark":{"type":"text","align":"left","baseline":"alphabetic","dx":7,"fontSize":14,"fontWeight":"bold","color":"#c800c8","font":"Liberation Sans"},
"encoding":{"x":{"field":"t","type":"quantitative","scale":{"domain":[0,4000],"nice":false},"axis":null},"y":{"field":"v","type":"quantitative","scale":{"domain":[0,8],"nice":false,"zero":false},"axis":null},"text":{"field":"r"}}}
]}
]
}
